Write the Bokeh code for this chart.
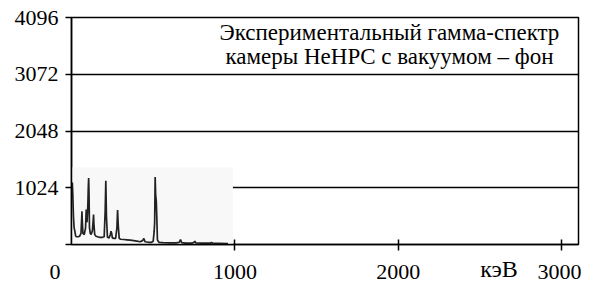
from bokeh.plotting import figure
from bokeh.models import Label, FixedTicker
from bokeh.embed import file_html
from bokeh.resources import INLINE

# Spectrum (keV, counts)
energy_kev = [5, 8, 12, 16, 20, 25, 30, 40, 50, 58, 62, 64, 66, 70, 78, 86, 90, 92, 95, 100,
              103, 105, 107, 110, 115, 120, 128, 133, 135, 137, 142, 150, 160, 170, 180, 190,
              200, 206, 210, 214, 220, 230, 238, 242, 246, 250, 260, 270, 278, 282, 286, 292,
              300, 320, 340, 360, 380, 400, 420, 435, 443, 450, 470, 490, 500, 506, 509, 512,
              515, 519, 522, 526, 535, 560, 600, 640, 660, 667, 674, 700, 740, 750, 755, 760,
              800, 850, 857, 864, 900, 958]
counts = [1120, 900, 500, 300, 250, 160, 140, 140, 150, 200, 450, 600, 420, 200, 180, 300, 630,
          560, 400, 700, 1050, 1200, 950, 300, 200, 180, 250, 450, 540, 380, 180, 150, 140, 130,
          130, 130, 140, 600, 1150, 500, 130, 120, 180, 240, 200, 120, 110, 110, 300, 620, 350,
          110, 95, 90, 85, 80, 70, 60, 50, 70, 110, 50, 40, 40, 60, 240, 400, 1216, 900, 780,
          500, 80, 40, 35, 30, 30, 40, 90, 35, 25, 25, 40, 60, 30, 25, 25, 35, 22, 20, 15]

# shaded area of the inserted spectrum image (keV, counts)
panel_left, panel_right = [0], [988]
panel_bottom, panel_top = [0], [1396]

x_ticks = [0, 1000, 2000, 3000]
x_tick_marks = [1000, 2000, 3000]
y_ticks = [0, 1024, 2048, 3072, 4096]
x_max = 3103
y_max = 4096

title_lines = ["Экспериментальный гамма-спектр", "камеры HeHPC с вакуумом – фон"]
x_unit = "кэВ"

FONT = "Liberation Serif"
NB = "\u00a0"

p = figure(width=581, height=284, output_backend="svg", toolbar_location=None,
           x_range=(0, x_max), y_range=(0, y_max),
           min_border_left=71, min_border_right=3, min_border_top=17, min_border_bottom=39)
p.background_fill_color = "white"
p.border_fill_color = "white"
p.outline_line_color = "black"
p.outline_line_width = 1.5

p.quad(left=panel_left, right=panel_right, bottom=panel_bottom, top=panel_top,
       fill_color="#f8f8f8", line_color=None)
p.line(energy_kev, counts, line_color="#222222", line_width=1.7)

# grid
p.xgrid.visible = False
p.ygrid.ticker = FixedTicker(ticks=[1024, 2048, 3072, 4096])
p.ygrid.grid_line_color = "black"
p.ygrid.grid_line_width = 1.5
p.ygrid.grid_line_alpha = 1.0

# x axis: labels on major ticks (marks hidden), visible marks via minor ticks
xa = p.xaxis[0]
xa.ticker = FixedTicker(ticks=x_ticks, minor_ticks=x_tick_marks)
xa.major_label_overrides = {0: "0" + NB * 6}
xa.axis_line_color = "black"
xa.axis_line_width = 1.5
xa.major_tick_line_color = None
xa.minor_tick_line_color = "black"
xa.minor_tick_line_width = 1.5
xa.minor_tick_in = 5
xa.minor_tick_out = 6
xa.major_tick_in = 0
xa.major_tick_out = 6
xa.major_label_text_font = FONT
xa.major_label_text_font_size = "22px"
xa.major_label_text_color = "black"
xa.major_label_standoff = 8
xa.axis_label = NB * 58 + x_unit
xa.axis_label_align = "center"
xa.axis_label_standoff = -31
xa.axis_label_text_font = FONT
xa.axis_label_text_font_size = "24px"
xa.axis_label_text_font_style = "normal"
xa.axis_label_text_color = "black"

ya = p.yaxis[0]
ya.ticker = FixedTicker(ticks=y_ticks)
ya.major_label_overrides = {0: ""}
ya.axis_line_color = "black"
ya.axis_line_width = 1.5
ya.major_tick_line_color = "black"
ya.major_tick_line_width = 1.5
ya.major_tick_in = 0
ya.major_tick_out = 6
ya.minor_tick_line_color = None
ya.major_label_text_font = FONT
ya.major_label_text_font_size = "22px"
ya.major_label_text_color = "black"
ya.major_label_standoff = 7

# title lines
p.add_layout(Label(x=1946, y=3825, text=title_lines[0], text_font=FONT, text_font_size="23px",
                   text_align="center", text_baseline="alphabetic", text_color="black"))
p.add_layout(Label(x=1946, y=3394, text=title_lines[1], text_font=FONT, text_font_size="23px",
                   text_align="center", text_baseline="alphabetic", text_color="black"))

open("out.html", "w").write(file_html(p, INLINE))
